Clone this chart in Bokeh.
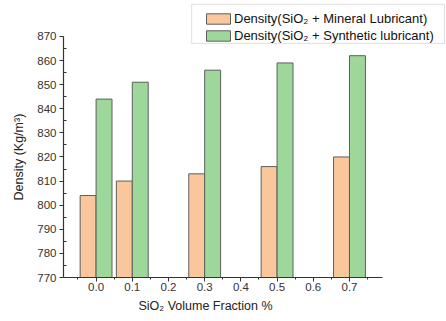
from bokeh.plotting import figure
from bokeh.models import (ColumnDataSource, FixedTicker, NumeralTickFormatter,
                          Legend, LegendItem, Range1d, BoxAnnotation, Title)
from bokeh.transform import dodge
from bokeh.embed import file_html
from bokeh.resources import INLINE

# ---- data ----
fractions = [0.0, 0.1, 0.3, 0.5, 0.7]
mineral = [804, 810, 813, 816, 820]
synthetic = [844, 851, 856, 859, 862]
x_ticks = [0.0, 0.1, 0.2, 0.3, 0.4, 0.5, 0.6, 0.7]
x_minor = [-0.05, 0.05, 0.15, 0.25, 0.35, 0.45, 0.55, 0.65, 0.75]
y_ticks = [770, 780, 790, 800, 810, 820, 830, 840, 850, 860, 870]
y_minor = [775, 785, 795, 805, 815, 825, 835, 845, 855, 865]
label_mineral = "Density(SiO\u2082 + Mineral Lubricant)"
label_synth = "Density(SiO\u2082 + Synthetic lubricant)"
x_title = "SiO\u2082 Volume Fraction %"
y_title = "Density (Kg/m\u00b3)"

src = ColumnDataSource(dict(x=fractions, m=mineral, s=synthetic))

FONT = "Liberation Sans"
BAR_W = 0.044
X0, X1 = -0.09, 0.79
Y0, Y1 = 770, 870

# frame spans the whole top/right of the canvas so the legend is not clipped;
# the axis lines are bounded to the real data extent
p = figure(width=446, height=321, output_backend="svg", toolbar_location=None,
           x_range=Range1d(X0, 0.968), y_range=Range1d(Y0, 884.9),
           min_border_left=63, min_border_right=0, min_border_top=0,
           min_border_bottom=44)

# legend frame (decoration)
p.add_layout(BoxAnnotation(left=0.264, right=0.9625, bottom=867.1, top=883.3,
                           fill_color="white", fill_alpha=1,
                           line_color="#9a9a9a", line_width=1, level="underlay"))

r1 = p.vbar(x=dodge("x", -BAR_W / 2, range=p.x_range), top="m", bottom=Y0,
            width=BAR_W, source=src, fill_color="#F9C79B", line_color="#5e5e5e",
            line_width=1)
r2 = p.vbar(x=dodge("x", BAR_W / 2, range=p.x_range), top="s", bottom=Y0,
            width=BAR_W, source=src, fill_color="#9ED79A", line_color="#5e5e5e",
            line_width=1)

p.outline_line_color = None
p.grid.grid_line_color = None
p.background_fill_color = "white"
p.border_fill_color = "white"

xa = p.xaxis[0]
xa.ticker = FixedTicker(ticks=x_ticks, minor_ticks=x_minor)
xa.formatter = NumeralTickFormatter(format="0.0")
xa.bounds = (X0, X1)
ya = p.yaxis[0]
ya.ticker = FixedTicker(ticks=y_ticks, minor_ticks=y_minor)
ya.bounds = (Y0, Y1)

for ax in (xa, ya):
    ax.axis_line_color = "#333333"
    ax.axis_line_width = 1.2
    ax.major_tick_line_color = "#333333"
    ax.minor_tick_line_color = "#333333"
    ax.major_label_text_font = FONT
    ax.major_label_text_font_size = "11.5px"
    ax.major_label_text_color = "#333333"

xa.major_tick_out = 4
xa.major_tick_in = 0
xa.minor_tick_out = 2
xa.minor_tick_in = 0
xa.major_label_standoff = 1
ya.major_tick_out = 4
ya.major_tick_in = 0
ya.minor_tick_out = 0
ya.minor_tick_in = 3
ya.major_label_standoff = 3

# axis titles, placed along the bounded axes (not the whole frame)
xt = Title(text=x_title, align="left", offset=75, text_font=FONT,
           text_font_size="12.5px", text_font_style="normal",
           text_color="#222222", standoff=7)
p.add_layout(xt, "below")
yt = Title(text=y_title, align="left", offset=77, text_font=FONT,
           text_font_size="12.5px", text_font_style="normal",
           text_color="#222222", standoff=17)
p.add_layout(yt, "left")

legend = Legend(items=[LegendItem(label=label_mineral, renderers=[r1]),
                       LegendItem(label=label_synth, renderers=[r2])],
                location=(140, 234))
legend.label_text_font = FONT
legend.label_text_font_size = "13px"
legend.label_text_color = "#111111"
legend.glyph_width = 30
legend.glyph_height = 13
legend.label_standoff = 1
legend.label_height = 14
legend.spacing = 2
legend.padding = 4
legend.margin = 0
legend.border_line_color = None
legend.background_fill_alpha = 0
p.add_layout(legend, "center")

open("out.html", "w").write(file_html(p, INLINE))
